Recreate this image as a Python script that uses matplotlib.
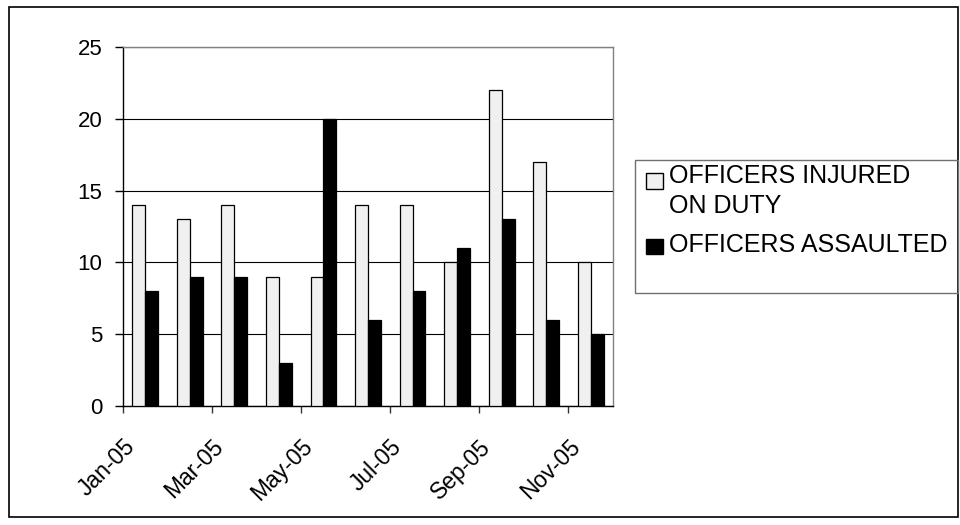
import matplotlib
matplotlib.use("Agg")
import matplotlib.pyplot as plt
from matplotlib.patches import Rectangle
from matplotlib.transforms import ScaledTranslation
import numpy as np

plt.rcParams['font.family'] = ['Liberation Sans', 'DejaVu Sans']

months = ["Jan-05", "Feb-05", "Mar-05", "Apr-05", "May-05", "Jun-05",
          "Jul-05", "Aug-05", "Sep-05", "Oct-05", "Nov-05"]
injured = [14, 13, 14, 9, 9, 14, 14, 10, 22, 17, 10]
assaulted = [8, 9, 9, 3, 20, 6, 8, 11, 13, 6, 5]
series_names = ["OFFICERS INJURED\nON DUTY", "OFFICERS ASSAULTED"]
tick_labels = months[::2]

W, H = 960, 525
fig = plt.figure(figsize=(W / 100, H / 100), dpi=100)

def fx(px):
    return px / W

def fy(py):
    return 1 - py / H

# outer border
fig.patches.append(Rectangle((fx(9), fy(517)), fx(958) - fx(9), fy(7) - fy(517),
                             transform=fig.transFigure, fill=False,
                             edgecolor='black', lw=1.2))

ax = fig.add_axes([fx(123), fy(406), fx(613) - fx(123), fy(47) - fy(406)])

x = np.arange(len(months)) + 0.5
bw = 0.29
ax.bar(x - bw / 2, injured, width=bw, color='#f0f0f0', edgecolor='black',
       linewidth=0.9, zorder=3)
ax.bar(x + bw / 2, assaulted, width=bw, color='black', edgecolor='black',
       linewidth=0.9, zorder=3)

ax.set_xlim(0, len(months))
ax.set_ylim(0, 25)
ax.set_yticks(range(0, 26, 5))
ax.set_xticks(np.arange(0, len(months), 2))
ax.set_xticklabels(tick_labels, rotation=45, ha='right', va='top',
                   rotation_mode='anchor', fontsize=16.5)
offset = ScaledTranslation(1 / 100, 0, fig.dpi_scale_trans)
for lab in ax.get_xticklabels():
    lab.set_transform(lab.get_transform() + offset)
ax.tick_params(axis='y', labelsize=16, length=6, width=1, direction='out', pad=9)
ax.tick_params(axis='x', length=5, width=1, direction='out', pad=16, color='#333333')
ax.yaxis.grid(True, color='black', linewidth=0.8, zorder=0)
ax.set_axisbelow(True)
for s in ['top', 'right']:
    ax.spines[s].set_color('#808080')
    ax.spines[s].set_linewidth(1)
for s in ['left', 'bottom']:
    ax.spines[s].set_color('black')
    ax.spines[s].set_linewidth(1)

# legend box
fig.patches.append(Rectangle((fx(635), fy(293)), fx(958) - fx(635), fy(160) - fy(293),
                             transform=fig.transFigure, fill=False,
                             edgecolor='#707070', lw=1))
fig.patches.append(Rectangle((fx(646), fy(189)), fx(663) - fx(646), fy(173) - fy(189),
                             transform=fig.transFigure, facecolor='#f0f0f0',
                             edgecolor='black', lw=1))
fig.patches.append(Rectangle((fx(646), fy(254)), fx(663) - fx(646), fy(239) - fy(254),
                             transform=fig.transFigure, facecolor='black',
                             edgecolor='black', lw=1))
fig.text(fx(669), fy(164), series_names[0], fontsize=18, va='top', ha='left',
         linespacing=1.33)
fig.text(fx(669), fy(233), series_names[1], fontsize=18, va='top', ha='left')

fig.savefig("out.png", dpi=100)
